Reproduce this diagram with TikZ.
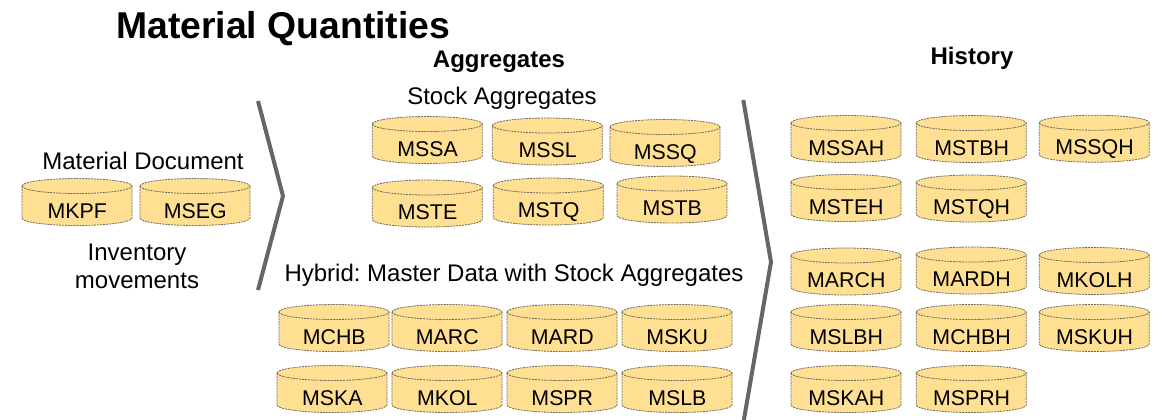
\documentclass[tikz,border=0pt]{standalone}
\usepackage{fontspec}
\setmainfont{Liberation Sans}
\frenchspacing
\definecolor{dbfill}{HTML}{FFDF91}
\definecolor{dbline}{HTML}{6E6A60}
\definecolor{chev}{HTML}{666666}
\newcommand{\px}{0.75pt}
\tikzset{
  dbshape/.style={draw=dbline,fill=dbfill,line width=0.6pt,dash pattern=on 1.5pt off 0.7pt},
  dblabel/.style={inner sep=0pt,font=\fontsize{16}{19}\selectfont,text=black,anchor=base},
  captext/.style={inner sep=0pt,font=\fontsize{18}{21}\selectfont,text=black,anchor=base,align=center},
  headtext/.style={inner sep=0pt,font=\fontsize{18}{21}\selectfont\bfseries,text=black,anchor=base},
  chevron/.style={draw=chev,line width=3pt,line join=miter}
}
% \dbcyl{x left}{y top}{label}
\newcommand{\dbcyl}[3]{%
  \begin{scope}[shift={(#1,-#2)}]
    \path[dbshape] (0,-8) -- (0,-40) arc[start angle=180,end angle=360,x radius=55,y radius=7.5] -- (110,-8) arc[start angle=0,end angle=180,x radius=55,y radius=7.5] -- cycle;
    \path[dbshape] (0,-8) arc[start angle=180,end angle=360,x radius=55,y radius=7.5];
    \node[dblabel] (#3) at (55.3,-40) {#3};
  \end{scope}}
\begin{document}
\begin{tikzpicture}[x=\px,y=\px]
\useasboundingbox (0,0) rectangle (1168,-419);
\node[inner sep=0pt,anchor=base west,font=\fontsize{28}{32}\selectfont\bfseries] (title) at (116,-38) {Material Quantities};
\node[headtext] (agg) at (499,-67) {Aggregates};
\node[headtext] (hist) at (972,-64) {History};
\node[captext] (stock) at (502,-104) {Stock Aggregates};
\node[captext] (matdoc) at (143,-169.5) {Material Document};
\node[captext] (inv) at (137,-260) {Inventory};
\node[captext] (mov) at (137,-288) {movements};
\node[captext] (hyb) at (514,-281) {Hybrid: Master Data with Stock Aggregates};
\dbcyl{22}{178}{MKPF}
\dbcyl{140}{178}{MSEG}
\dbcyl{372.3}{116}{MSSA}
\dbcyl{492.3}{117.5}{MSSL}
\dbcyl{610}{119}{MSSQ}
\dbcyl{372.3}{179.5}{MSTE}
\dbcyl{493.3}{177.5}{MSTQ}
\dbcyl{617}{175.5}{MSTB}
\dbcyl{279}{304}{MCHB}
\dbcyl{392}{304}{MARC}
\dbcyl{507}{304}{MARD}
\dbcyl{622}{304}{MSKU}
\dbcyl{277}{365}{MSKA}
\dbcyl{392}{365}{MKOL}
\dbcyl{507}{365}{MSPR}
\dbcyl{622}{365}{MSLB}
\dbcyl{791}{115}{MSSAH}
\dbcyl{916.3}{115}{MSTBH}
\dbcyl{1039.3}{114.7}{MSSQH}
\dbcyl{791}{174}{MSTEH}
\dbcyl{916.3}{174.5}{MSTQH}
\dbcyl{791}{247.5}{MARCH}
\dbcyl{916.3}{246.5}{MARDH}
\dbcyl{1039.3}{247}{MKOLH}
\dbcyl{791}{304}{MSLBH}
\dbcyl{916.3}{304}{MCHBH}
\dbcyl{1039.3}{304}{MSKUH}
\dbcyl{791}{365}{MSKAH}
\dbcyl{916.3}{365}{MSPRH}
\draw[chevron] (258,-101) -- (283,-196) -- (258,-290);
\draw[chevron] (743.3,-100) -- (771,-262) -- (743,-425);
\end{tikzpicture}
\end{document}
